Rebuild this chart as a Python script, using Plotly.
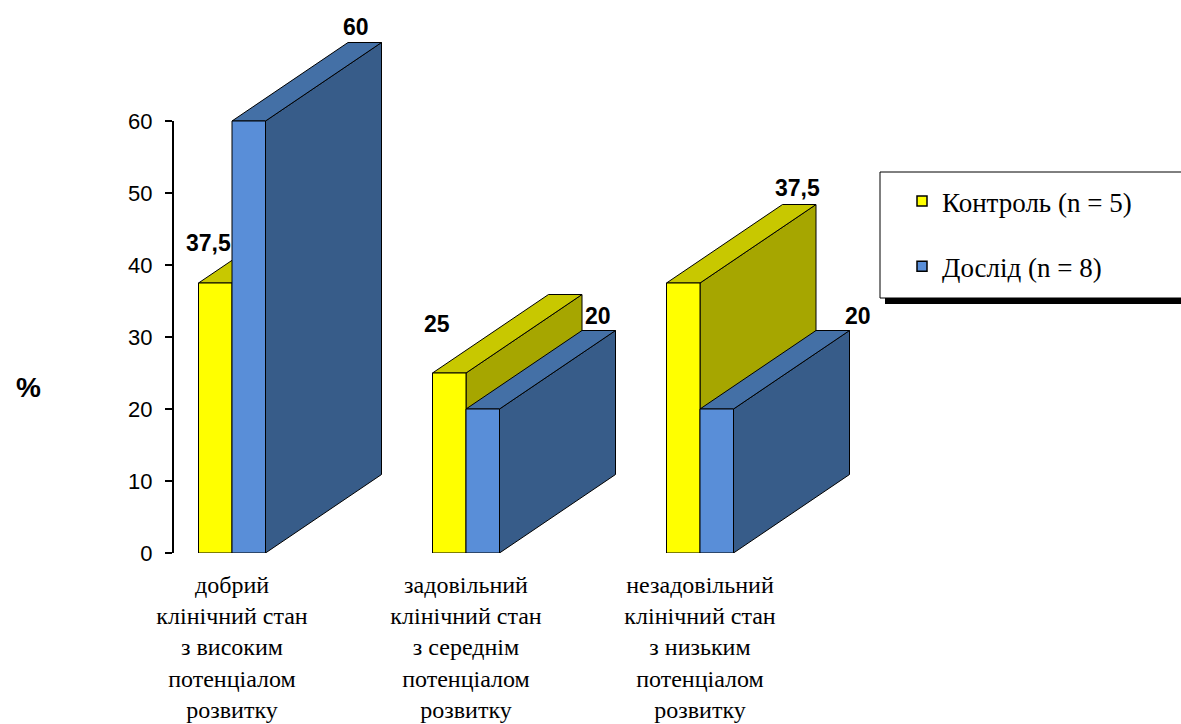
import plotly.graph_objects as go

# ---------------- data ----------------
categories = [
    "добрий<br>клінічний стан<br>з високим<br>потенціалом<br>розвитку",
    "задовільний<br>клінічний стан<br>з середнім<br>потенціалом<br>розвитку",
    "незадовільний<br>клінічний стан<br>з низьким<br>потенціалом<br>розвитку",
]
series_names = ["Контроль (n = 5)", "Дослід (n = 8)"]
control_values = [37.5, 25, 37.5]
experiment_values = [60, 20, 20]
control_labels = ["37,5", "25", "37,5"]
experiment_labels = ["60", "20", "20"]
y_tick_values = [0, 10, 20, 30, 40, 50, 60]
y_axis_title = "%"

# ---------------- geometry / style ----------------
W, H = 1181, 724
ML, MR, MT, MB = 173, 0, 0, 171
plot_w = W - ML - MR
plot_h = H - MT - MB
PX_PER_Y = 432 / 60.0
y_max = plot_h / PX_PER_Y
GROUP_PX = 234.0
FIRST_CENTER_PX = 232.0
x_min = -(FIRST_CENTER_PX - ML) / GROUP_PX
x_max = x_min + plot_w / GROUP_PX
BAR_W = 33.5 / GROUP_PX
DEPTH_X = 116.0 / GROUP_PX
DEPTH_Y = 78.5 / PX_PER_Y

SERIF = "Liberation Serif"
SANS = "Liberation Sans"

colors = [
    {"front": "#FFFF00", "top": "#C8C800", "side": "#A6A600", "legend": "#FFFF00"},
    {"front": "#598ED8", "top": "#4470A6", "side": "#375C89", "legend": "#598ED8"},
]
# label offsets (px) relative to the back-top-right corner of each bar
label_shift = [
    [(-140, -38), (-145, -29), (-19, 17)],
    [(-26, 16), (-18, 15), (8, 15)],
]

series_values = [control_values, experiment_values]
series_labels = [control_labels, experiment_labels]

fig = go.Figure()


def face(xs, ys, color):
    fig.add_trace(go.Scatter(
        x=xs + [xs[0]], y=ys + [ys[0]], mode="lines", fill="toself",
        fillcolor=color, line=dict(color="black", width=1),
        hoverinfo="skip", showlegend=False))


annotations = []
for gi in range(len(categories)):
    for si, vals in enumerate(series_values):
        v = vals[gi]
        xl = gi - BAR_W + si * BAR_W
        xr = xl + BAR_W
        c = colors[si]
        # side face
        face([xr, xr + DEPTH_X, xr + DEPTH_X, xr],
             [0, DEPTH_Y, v + DEPTH_Y, v], c["side"])
        # top face
        face([xl, xr, xr + DEPTH_X, xl + DEPTH_X],
             [v, v, v + DEPTH_Y, v + DEPTH_Y], c["top"])
        # front face
        face([xl, xr, xr, xl], [0, 0, v, v], c["front"])
        dx, dy = label_shift[si][gi]
        annotations.append(dict(
            x=xr + DEPTH_X, y=v + DEPTH_Y, xref="x", yref="y",
            text="<b>%s</b>" % series_labels[si][gi], showarrow=False,
            xshift=dx, yshift=dy, xanchor="center", yanchor="middle",
            font=dict(family=SANS, size=23, color="black")))

# legend entries
for si, name in enumerate(series_names):
    fig.add_trace(go.Scatter(
        x=[None], y=[None], mode="markers", name=name,
        legendgroup="g%d" % si,
        marker=dict(symbol="square", size=10, color=colors[si]["legend"],
                    line=dict(color="black", width=1.5))))


def px_x(p):
    return (p - ML) / plot_w


def px_y(p):
    return (H - MB - p) / plot_h


annotations.append(dict(
    x=px_x(28), y=px_y(387), xref="paper", yref="paper", text="<b>%s</b>" % y_axis_title,
    showarrow=False, xanchor="center", yanchor="middle",
    font=dict(family=SANS, size=28, color="black")))

shapes = [
    # y axis line from 0 to 60
    dict(type="line", xref="paper", yref="y", x0=0, x1=0,
         y0=y_tick_values[0], y1=y_tick_values[-1],
         line=dict(color="black", width=2)),
    # legend shadow
    dict(type="rect", xref="paper", yref="paper",
         x0=px_x(885), x1=px_x(1200), y0=px_y(304), y1=px_y(177),
         fillcolor="black", line=dict(width=0), layer="above"),
    # legend box
    dict(type="rect", xref="paper", yref="paper",
         x0=px_x(880), x1=px_x(1195), y0=px_y(298), y1=px_y(172),
         fillcolor="white", line=dict(color="black", width=1), layer="above"),
]

fig.update_layout(
    width=W, height=H,
    margin=dict(l=ML, r=MR, t=MT, b=MB, pad=0, autoexpand=False),
    paper_bgcolor="white", plot_bgcolor="white",
    showlegend=True,
    legend=dict(
        x=px_x(902), y=px_y(177), xanchor="left", yanchor="top",
        bgcolor="rgba(0,0,0,0)", borderwidth=0,
        tracegroupgap=27,
        font=dict(family=SERIF, size=27, color="black"),
    ),
    xaxis=dict(
        range=[x_min, x_max], tickmode="array", tickvals=list(range(len(categories))),
        ticktext=categories, showgrid=False, zeroline=False, showline=False,
        ticks="", tickangle=0, ticklabelstandoff=15, automargin=False,
        tickfont=dict(family=SERIF, size=24, color="black"),
    ),
    yaxis=dict(
        range=[0, y_max], tickmode="array", tickvals=y_tick_values,
        showgrid=False, zeroline=False, showline=False, automargin=False,
        ticks="outside", ticklen=7, tickwidth=2, tickcolor="black",
        ticklabelstandoff=8,
        tickfont=dict(family=SANS, size=22, color="black"),
    ),
    annotations=annotations,
    shapes=shapes,
)

fig.write_html("out.html")
